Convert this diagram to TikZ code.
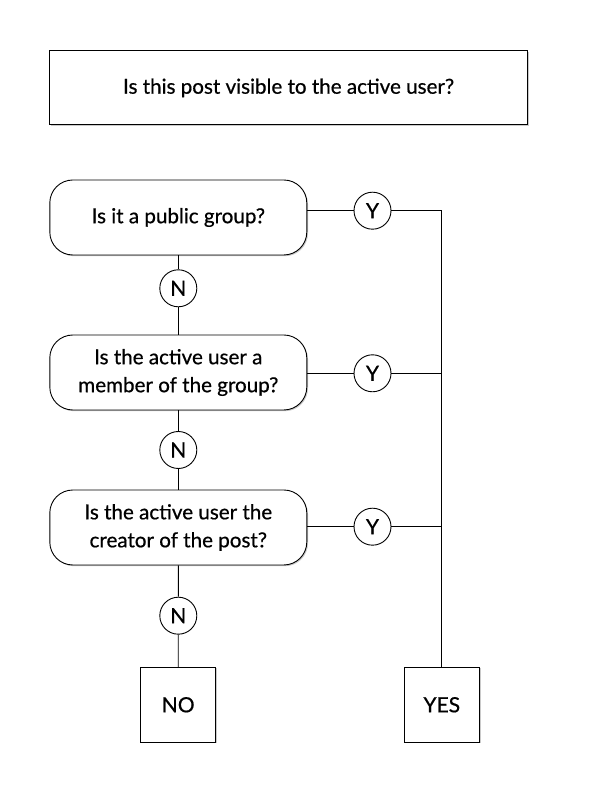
\documentclass[tikz,border=0pt]{standalone}
\usepackage{fontspec}
\setmainfont{Lato}[FakeBold=0.6]
\usetikzlibrary{shadows}
\begin{document}
\begin{tikzpicture}[x=1pt,y=1pt,
  line width=0.9pt,
  shad/.style={drop shadow={shadow xshift=1.2pt,shadow yshift=-1.2pt,opacity=0.35,fill=black!60}},
  titlebox/.style={draw,fill=white,shad,minimum width=478pt,minimum height=74pt,inner sep=0pt,font=\fontsize{20.6}{26}\selectfont},
  qbox/.style={draw,fill=white,shad,rounded corners=23pt,minimum width=257pt,minimum height=75pt,inner sep=0pt,align=center,font=\fontsize{20.6}{28}\selectfont},
  lbl/.style={draw,circle,fill=white,minimum size=37pt,inner sep=0pt,font=\fontsize{21}{24}\selectfont},
  endbox/.style={draw,fill=white,shad,minimum width=75pt,minimum height=75pt,inner sep=0pt,font=\fontsize{21}{24}\selectfont}]
\useasboundingbox (0,0) rectangle (612,792);
\node[titlebox] (title) at (288.6,704.1) {Is this post visible to the active user?};
\node[qbox] (q1) at (178.3,574.5) {Is it a public group?};
\node[qbox] (q2) at (178.3,419.5) {Is the active user a\\member of the group?};
\node[qbox] (q3) at (178.3,264.5) {Is the active user the\\creator of the post?};
\node[lbl] (y1) at (372.5,581.3) {Y};
\node[lbl] (y2) at (372.5,418.7) {Y};
\node[lbl] (y3) at (372.5,265.3) {Y};
\node[lbl] (n1) at (178.3,503.7) {N};
\node[lbl] (n2) at (178.3,342) {N};
\node[lbl] (n3) at (178.3,176.3) {N};
\node[endbox] (no) at (178.2,87.2) {NO};
\node[endbox] (yes) at (441.8,87.2) {YES};
\coordinate (bus) at (441.8,581.3);
\draw (y1 -| q1.east) -- (y1) -- (bus) -- (yes.north);
\draw (y2 -| q2.east) -- (y2) -- (y2 -| bus);
\draw (y3 -| q3.east) -- (y3) -- (y3 -| bus);
\draw (q1.south) -- (n1) -- (q2.north);
\draw (q2.south) -- (n2) -- (q3.north);
\draw (q3.south) -- (n3) -- (no.north);
\end{tikzpicture}
\end{document}
